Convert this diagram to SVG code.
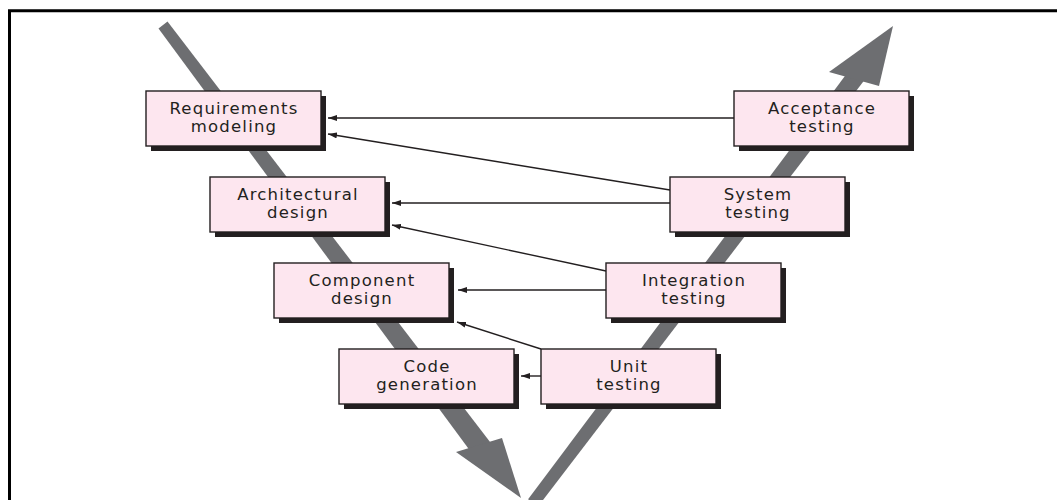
<svg xmlns="http://www.w3.org/2000/svg" width="1057" height="500" viewBox="0 0 1057 500">
  <style>
    .band { fill: #6d6e71; }
    .shadow { fill: #231f20; }
    .box { fill: #fde6ef; stroke: #231f20; stroke-width: 1.4; }
    .label { font-family: "DejaVu Sans", "Liberation Sans", sans-serif; font-size: 16.5px; letter-spacing: 1.2px; fill: #231f20; text-anchor: middle; }
    .conn { stroke: #231f20; stroke-width: 1.4; fill: none; marker-end: url(#arr); }
  </style>
  <defs>
    <marker id="arr" viewBox="0 0 9 6" refX="9" refY="3" markerWidth="9" markerHeight="6" markerUnits="userSpaceOnUse" orient="auto">
      <path d="M0,0 L9,3 L0,6 z" fill="#231f20"/>
    </marker>
  </defs>
  <rect x="0" y="0" width="1057" height="500" fill="#ffffff"/>
  <path d="M9.5,500 V10.8 H1057" fill="none" stroke="#000000" stroke-width="3"/>

  <g id="bands">
    <polygon class="band" points="158.5,28.5 167.5,21.5 493.5,446.5 476.5,459.5"/>
    <polygon class="band" points="456,452 502,438 521,498"/>
    <polygon class="band" points="528.1,499.3 537.9,506.7 867.2,76.4 852.8,65.6"/>
    <polygon class="band" points="829,72 879,86 893,26"/>
  </g>

  <g id="connectors">
    <line class="conn" x1="734" y1="118" x2="328" y2="118"/>
    <line class="conn" x1="670" y1="190" x2="328" y2="134"/>
    <line class="conn" x1="670" y1="203" x2="392" y2="203"/>
    <line class="conn" x1="606" y1="271" x2="392" y2="225"/>
    <line class="conn" x1="606" y1="290" x2="458" y2="290"/>
    <line class="conn" x1="541" y1="349" x2="457" y2="322"/>
    <line class="conn" x1="541" y1="376" x2="521" y2="376"/>
  </g>

  <g id="requirements-modeling">
    <rect class="shadow" x="151" y="96" width="175" height="55"/>
    <rect class="box" x="146" y="91" width="175" height="55"/>
    <text class="label" x="234" y="114">Requirements</text>
    <text class="label" x="234" y="132">modeling</text>
  </g>
  <g id="architectural-design">
    <rect class="shadow" x="215" y="182" width="175" height="55"/>
    <rect class="box" x="210" y="177" width="175" height="55"/>
    <text class="label" x="298" y="200">Architectural</text>
    <text class="label" x="298" y="218">design</text>
  </g>
  <g id="component-design">
    <rect class="shadow" x="279" y="268" width="175" height="55"/>
    <rect class="box" x="274" y="263" width="175" height="55"/>
    <text class="label" x="362" y="286">Component</text>
    <text class="label" x="362" y="304">design</text>
  </g>
  <g id="code-generation">
    <rect class="shadow" x="344" y="354" width="175" height="55"/>
    <rect class="box" x="339" y="349" width="175" height="55"/>
    <text class="label" x="427" y="372">Code</text>
    <text class="label" x="427" y="390">generation</text>
  </g>
  <g id="acceptance-testing">
    <rect class="shadow" x="739" y="96" width="175" height="55"/>
    <rect class="box" x="734" y="91" width="175" height="55"/>
    <text class="label" x="822" y="114">Acceptance</text>
    <text class="label" x="822" y="132">testing</text>
  </g>
  <g id="system-testing">
    <rect class="shadow" x="675" y="182" width="175" height="55"/>
    <rect class="box" x="670" y="177" width="175" height="55"/>
    <text class="label" x="758" y="200">System</text>
    <text class="label" x="758" y="218">testing</text>
  </g>
  <g id="integration-testing">
    <rect class="shadow" x="611" y="268" width="175" height="55"/>
    <rect class="box" x="606" y="263" width="175" height="55"/>
    <text class="label" x="694" y="286">Integration</text>
    <text class="label" x="694" y="304">testing</text>
  </g>
  <g id="unit-testing">
    <rect class="shadow" x="546" y="354" width="175" height="55"/>
    <rect class="box" x="541" y="349" width="175" height="55"/>
    <text class="label" x="629" y="372">Unit</text>
    <text class="label" x="629" y="390">testing</text>
  </g>
</svg>
